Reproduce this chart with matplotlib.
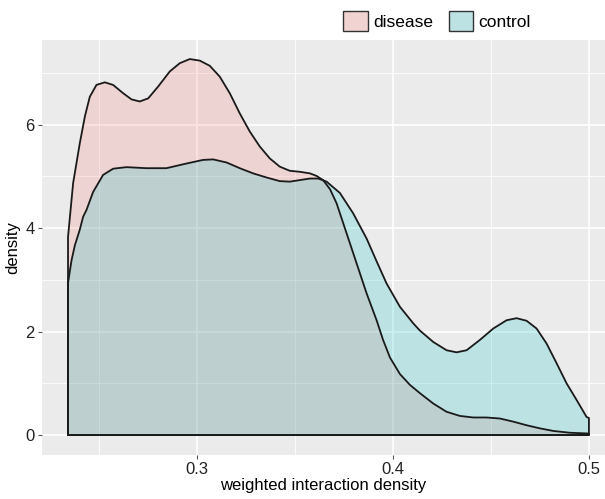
import numpy as np
import matplotlib.pyplot as plt
from matplotlib.patches import Patch
from matplotlib.ticker import MultipleLocator

plt.rcParams["font.family"] = ["Liberation Sans", "DejaVu Sans"]

# density curves (x = weighted interaction density)
disease_x = [0.2343, 0.2369, 0.2403, 0.2429, 0.2454, 0.2488, 0.2531, 0.2573, 0.2624,
             0.2667, 0.2709, 0.2752, 0.2803, 0.2862, 0.2913, 0.2964, 0.3015, 0.3066,
             0.3117, 0.3168, 0.3219, 0.3270, 0.3321, 0.3372, 0.3423, 0.3474, 0.3526,
             0.3577, 0.3611, 0.3644, 0.3680, 0.3713, 0.3764, 0.3815, 0.3866, 0.3917,
             0.3950, 0.3985, 0.4036, 0.4087, 0.4138, 0.4206, 0.4274, 0.4342, 0.4410,
             0.4478, 0.4546, 0.4614, 0.4682, 0.4750, 0.4818, 0.4903, 0.5000]
disease_y = [3.83, 4.87, 5.64, 6.16, 6.54, 6.77, 6.82, 6.77, 6.61,
             6.49, 6.45, 6.51, 6.74, 7.03, 7.19, 7.27, 7.24, 7.14,
             6.93, 6.61, 6.22, 5.87, 5.58, 5.35, 5.19, 5.11, 5.09,
             5.06, 5.01, 4.93, 4.75, 4.48, 3.90, 3.32, 2.74, 2.22,
             1.84, 1.50, 1.18, 0.97, 0.81, 0.61, 0.45, 0.37, 0.34,
             0.34, 0.32, 0.26, 0.19, 0.13, 0.08, 0.045, 0.03]

control_x = [0.2343, 0.2361, 0.2378, 0.2403, 0.2420, 0.2437, 0.2471, 0.2522, 0.2573,
             0.2641, 0.2743, 0.2845, 0.2947, 0.3032, 0.3083, 0.3152, 0.3219, 0.3287,
             0.3356, 0.3423, 0.3474, 0.3526, 0.3577, 0.3619, 0.3662, 0.3730, 0.3797,
             0.3866, 0.3917, 0.3968, 0.4036, 0.4104, 0.4138, 0.4172, 0.4206, 0.4274,
             0.4325, 0.4376, 0.4444, 0.4512, 0.4580, 0.4631, 0.4682, 0.4733, 0.4784,
             0.4835, 0.4886, 0.4937, 0.4988, 0.5000]
control_y = [2.94, 3.38, 3.67, 3.97, 4.22, 4.35, 4.70, 5.03, 5.15,
             5.18, 5.16, 5.16, 5.25, 5.32, 5.33, 5.27, 5.16, 5.06,
             4.98, 4.91, 4.90, 4.93, 4.96, 4.96, 4.90, 4.68, 4.29,
             3.80, 3.36, 2.93, 2.48, 2.16, 2.02, 1.91, 1.80, 1.64,
             1.60, 1.64, 1.84, 2.06, 2.22, 2.26, 2.21, 2.06, 1.77,
             1.39, 1.00, 0.68, 0.35, 0.33]

groups = ["disease", "control"]
fills = {"disease": "#F8766D", "control": "#00BFC4"}
curves = {"disease": (disease_x, disease_y), "control": (control_x, control_y)}

fig = plt.figure(figsize=(6.05, 4.99), dpi=100)
ax = fig.add_axes([0.069, 0.088, 0.931, 0.832])
ax.set_facecolor("#EBEBEB")

for g in groups:
    xs, ys = curves[g]
    px = np.concatenate([[xs[0]], xs, [xs[-1]]])
    py = np.concatenate([[0], ys, [0]])
    ax.fill(px, py, facecolor=fills[g], alpha=0.2, edgecolor="none", zorder=3)
    ax.plot(np.append(px, px[0]), np.append(py, py[0]), color="#1a1a1a", lw=1.3,
            zorder=4, solid_joinstyle="round")

ax.set_xlim(0.2209, 0.5082)
ax.set_ylim(-0.387, 7.64)
ax.set_xticks([0.3, 0.4, 0.5])
ax.set_xticklabels(["0.3", "0.4", "0.5"])
ax.set_yticks([0, 2, 4, 6])
ax.xaxis.set_minor_locator(MultipleLocator(0.05))
ax.yaxis.set_minor_locator(MultipleLocator(1))
ax.grid(which="major", color="white", lw=1.2, zorder=0)
ax.grid(which="minor", color="white", lw=0.6, zorder=0)
ax.set_axisbelow(True)
for s in ax.spines.values():
    s.set_visible(False)
ax.tick_params(which="major", length=3, width=0.8, color="#555555",
               labelsize=12, labelcolor="#222222", pad=2)
ax.tick_params(which="minor", length=0)
ax.set_xlabel("weighted interaction density", fontsize=12, labelpad=1)
ax.set_ylabel("density", fontsize=12, labelpad=4)

handles = [Patch(facecolor=c, edgecolor="#333333", lw=1.0)
           for c in ["#F1D4D2", "#BCE2E3"]]
fig.legend(handles, groups, loc="center", bbox_to_anchor=(437 / 605, 0.958), ncol=2,
           frameon=False, fontsize=12.5, handlelength=1.4, handleheight=1.4,
           handletextpad=0.3, columnspacing=0.9)

fig.savefig("out.png", dpi=100)
